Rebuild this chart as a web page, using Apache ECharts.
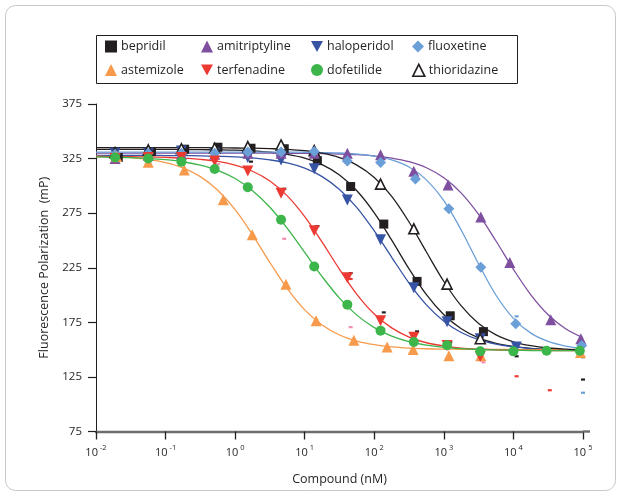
<!DOCTYPE html>
<html><head><meta charset="utf-8">
<script src="https://cdn.jsdelivr.net/npm/echarts@6/dist/echarts.min.js"></script>
<style>html,body{margin:0;padding:0;background:#fff}#c{width:626px;height:499px}</style>
</head><body><div id="c"></div><script>
// ---- data (concentrations in nM, values in mP) ----
const compounds = ['bepridil','amitriptyline','haloperidol','fluoxetine','astemizole','terfenadine','dofetilide','thioridazine'];
const xTickLabels = {'-2':'-2','-1':'-1','0':'0','1':'1','2':'2','3':'3','4':'4','5':'5'};

const bepridilX = [0.0209,0.0627,0.188,0.565,1.69,5.08,15.2,45.7,137,412,1235,3704];
const bepridilY = [326,331.4,333.6,335.4,334.5,334,323.1,299.4,265,212.5,181,166.5];
const thioridazineX = [0.0188,0.0564,0.169,0.508,1.52,4.57,13.7,123,370,1111,3333];
const thioridazineY = [330.5,333,334,334.5,336,337.5,332.3,301.6,260.7,210,160];
const haloperidolX = [0.0188,0.0564,0.169,0.508,1.52,4.57,13.7,41,123,370,1111,3333,11000];
const haloperidolY = [330,330,332,330,326,323.8,315.8,287,250.6,206.7,175.6,160,152.5];
const amitriptylineX = [0.0188,0.0564,0.169,0.508,1.52,4.57,13.7,41,123,370,1150,3400,8870,34400,93000];
const amitriptylineY = [325,328,329,329,330,330,330,330,328.4,313.3,300.9,271.6,229.8,177.4,160];
const fluoxetineX = [0.0188,0.0564,0.169,0.508,1.52,4.57,13.7,41,123,390,1180,3400,10800,96000];
const fluoxetineY = [329,330,330,330,331,331,331.4,322.9,321.5,306.4,279,225.5,173.8,153.7];
const astemizoleX = [0.0198,0.0564,0.186,0.675,1.76,5.37,14.6,50.9,153,362,1180,3400,92000];
const astemizoleY = [326.8,321.7,314.6,287.2,255.2,209.9,176.5,158.5,152.5,150.2,144.5,144.5,147.3];
const terfenadineX = [0.0188,0.0564,0.169,0.508,1.52,4.57,13.7,41,123,370,1111,3333];
const terfenadineY = [325,326,326,322.9,313.7,293.3,258.8,215.8,176.5,161.4,153.7,143.6];
const dofetilideX = [0.0188,0.0564,0.169,0.508,1.52,4.57,13.7,41,123,370,1111,3333,10000,30000,90000];
const dofetilideY = [326,325,322.2,315.5,298.8,268.9,226.2,191.2,167.4,157,154,148.4,148.4,149,149];

// fitted curves at quarter-decade steps
const curveX = [0.01,0.0178,0.0316,0.0562,0.1,0.178,0.316,0.562,1,1.78,3.16,5.62,10,17.8,31.6,56.2,100,178,316,562,1000,1780,3160,5620,10000,17800,31600,56200,100000];
const bepridilFit = [333.5,333.5,333.5,333.5,333.4,333.3,333.2,333.0,332.7,332.0,330.8,328.8,325.4,319.5,310.0,295.5,275.3,250.3,224.0,200.3,181.9,169.1,160.8,155.8,152.9,151.2,150.3,149.7,149.4];
const thioridazineFit = [335,335,335,335,335,335,335,334.9,334.7,334.5,334.1,333.5,332.2,329.9,325.9,319.0,307.7,290.4,266.9,239.4,212.4,190.0,173.9,163.5,157.2,153.6,151.5,150.4,149.8];
const haloperidolFit = [328,328,327.9,327.9,327.8,327.7,327.5,327.1,326.6,325.6,323.8,321.0,316.2,308.5,296.7,280.1,258.7,234.6,211.0,191.0,176.0,165.7,159.1,155.0,152.5,151.0,150.2,149.7,149.4];
const amitriptylineFit = [330,330,330,330,330,330,330,330,330,330,330,329.9,329.7,329.5,329.2,328.6,327.4,325.5,322.2,316.6,307.4,293.4,273.8,249.5,223.6,200.2,181.9,169.1,160.9];
const fluoxetineFit = [331,331,331,331,331,331,331,331,331,331,331,331,330.8,330.5,330.1,329.1,327.3,323.8,317.3,305.5,286.4,259.4,228.4,199.8,178.6,165.1,157.5,153.3,151.2];
const astemizoleFit = [327.3,326.8,325.8,324.2,321.3,316.5,308.5,296.0,278.2,255.2,229.8,205.8,186.4,172.5,163.4,157.8,154.5,152.5,151.4,150.8,150.5,150.3,150.2,150.1,150.1,150,150,150,150];
const terfenadineFit = [326.9,326.8,326.7,326.5,326.1,325.5,324.3,322.4,319.0,313.4,304.5,290.8,271.8,248.5,223.6,200.7,182.6,169.9,161.5,156.3,153.3,151.4,150.4,149.8,149.5,149.3,149.2,149.1,149.0];
const dofetilideFit = [326.6,326.3,325.9,325.2,324.0,322.1,319.0,314.2,306.7,295.6,280.4,261.0,239.0,216.9,197.2,181.6,170.2,162.4,157.3,154.1,152.1,150.9,150.1,149.7,149.4,149.2,149.1,149.1,149.0];

// small dash marks
const dashBlackX = [1.69,5.08,15.2,45.7,137,412,1235,11111,100000,100000];
const dashBlackY = [322.2,297.3,263.1,220.1,184.1,166.7,156.7,143.9,143.1,122.6];
const dashRedX = [45.7,11111,33333];
const dashRedY = [214.7,125.6,112.8];
const dashPinkX = [0.565,5.08,45.7,3704];
const dashPinkY = [319.8,251.5,170.6,138.4];
const dashBlueX = [11111,100000];
const dashBlueY = [180.5,110.5];

// ---- styling ----
const FONT = 'Open Sans';
const TXT = '#231f20';
const DOWN = 'path://M0,0L12,0L6,11Z';
const style = {
  bepridil:     {color:'#231f20', symbol:'rect', size:9, rot:0},
  amitriptyline:{color:'#7e4f9f', symbol:'triangle', size:11, rot:0},
  haloperidol:  {color:'#3753a4', symbol:'triangle', size:11, rot:180, icon:DOWN},
  fluoxetine:   {color:'#6b9fd7', symbol:'diamond', size:11, rot:0},
  astemizole:   {color:'#f79a4b', symbol:'triangle', size:11, rot:0},
  terfenadine:  {color:'#ec3a33', symbol:'triangle', size:11, rot:180, icon:DOWN},
  dofetilide:   {color:'#3cb54a', symbol:'circle', size:10, rot:0},
  thioridazine: {color:'#231f20', symbol:'triangle', size:10, rot:0, hollow:true}
};
const pts = {
  bepridil:[bepridilX,bepridilY], amitriptyline:[amitriptylineX,amitriptylineY],
  haloperidol:[haloperidolX,haloperidolY], fluoxetine:[fluoxetineX,fluoxetineY],
  astemizole:[astemizoleX,astemizoleY], terfenadine:[terfenadineX,terfenadineY],
  dofetilide:[dofetilideX,dofetilideY], thioridazine:[thioridazineX,thioridazineY]
};
const fits = {
  bepridil:bepridilFit, amitriptyline:amitriptylineFit, haloperidol:haloperidolFit,
  fluoxetine:fluoxetineFit, astemizole:astemizoleFit, terfenadine:terfenadineFit,
  dofetilide:dofetilideFit, thioridazine:thioridazineFit
};
const zip = (a,b) => a.map((v,i)=>[v,b[i]]);

const series = [];
compounds.forEach(n => {
  const s = style[n];
  series.push({
    name: n + ' fit', type:'line', data: zip(curveX, fits[n]), smooth:0.35,
    showSymbol:false, symbol:'none', z:2, silent:true,
    lineStyle:{color:s.color, width:1.3}
  });
});
const dashes = [[dashBlackX,dashBlackY,'#231f20'],[dashRedX,dashRedY,'#ec3a33'],[dashPinkX,dashPinkY,'#f08fb0'],[dashBlueX,dashBlueY,'#6b9fd7']];
dashes.forEach((d,i) => series.push({
  name:'dash'+i, type:'scatter', data: zip(d[0],d[1]), symbol:'rect', symbolSize:[4,2.2],
  itemStyle:{color:d[2], opacity:1}, z:3, silent:true
}));
['bepridil','haloperidol','thioridazine','amitriptyline','fluoxetine','astemizole','terfenadine','dofetilide'].forEach(n => {
  const s = style[n];
  series.push({
    name:n, type:'scatter', data: zip(pts[n][0], pts[n][1]),
    symbol:s.symbol, symbolSize:s.size, symbolRotate:s.rot, z:4,
    itemStyle: s.hollow ? {color:'#ffffff', borderColor:s.color, borderWidth:1.6, opacity:1} : {color:s.color, opacity:1}
  });
});

// legend placement: 2 rows x 4 columns
const legendCols = [105, 201, 311, 412];
const legendRows = [40, 63.5];
const legendOrder = [['bepridil','amitriptyline','haloperidol','fluoxetine'],['astemizole','terfenadine','dofetilide','thioridazine']];
const legends = [];
legendOrder.forEach((row,r) => row.forEach((n,c) => {
  const s = style[n];
  const item = {name:n};
  if (s.icon) item.icon = s.icon;
  legends.push({
    data:[item], left:legendCols[c], top:legendRows[r], padding:0,
    itemWidth:12, itemHeight:12, itemGap:0, selectedMode:false,
    itemStyle: s.hollow ? {color:'#ffffff', borderColor:s.color, borderWidth:1.6, opacity:1} : {color:s.color, opacity:1},
    textStyle:{fontFamily:FONT, fontSize:12.5, color:TXT, padding:[0,0,0,-1]}
  });
}));

const chart = echarts.init(document.getElementById('c'), null, {renderer:'canvas'});
chart.setOption({
  animation:false,
  backgroundColor:'#fff',
  grid:{left:96, right:43, top:104, bottom:67.5, containLabel:false},
  legend: legends,
  graphic:[
    {type:'rect', shape:{x:5.5, y:5.5, width:610, height:485, r:10}, style:{fill:'none', stroke:'#c9c9c9', lineWidth:1}, z:-1},
    {type:'rect', shape:{x:96.5, y:35.5, width:421, height:48}, style:{fill:'none', stroke:'#231f20', lineWidth:1}, z:1},
    {type:'line', shape:{x1:583, y1:431.5, x2:590, y2:431.5}, style:{stroke:'#6d6e71', lineWidth:2.4}, z:1}
  ],
  xAxis:{
    type:'log', logBase:10, min:0.01, max:100000,
    name:'Compound (nM)', nameLocation:'middle', nameGap:41,
    nameTextStyle:{fontFamily:FONT, fontSize:12.5, color:TXT},
    axisLine:{lineStyle:{color:'#6d6e71', width:2.4}},
    axisTick:{length:8, lineStyle:{color:'#231f20', width:1.3}},
    splitLine:{show:false}, minorTick:{show:false},
    axisLabel:{
      margin:12, color:TXT,
      formatter: v => { const e = String(Math.round(Math.log10(v))); return '{b|10}{s|' + xTickLabels[e] + '}'; },
      rich:{
        b:{fontFamily:FONT, fontSize:11, color:TXT, lineHeight:15, verticalAlign:'bottom'},
        s:{fontFamily:FONT, fontSize:7.5, color:TXT, lineHeight:15, verticalAlign:'top', padding:[0,0,0,2]}
      }
    }
  },
  yAxis:{
    type:'value', min:75, max:375, interval:50,
    name:'Fluorescence Polarization  (mP)', nameLocation:'middle', nameGap:45, nameRotate:90,
    nameTextStyle:{fontFamily:FONT, fontSize:12.5, color:TXT},
    axisLine:{show:true, lineStyle:{color:'#231f20', width:1}},
    axisTick:{show:true, length:8, lineStyle:{color:'#231f20', width:1.2}},
    splitLine:{show:false},
    axisLabel:{margin:14, fontFamily:FONT, fontSize:11.5, color:TXT}
  },
  series: series
});
</script></body></html>
